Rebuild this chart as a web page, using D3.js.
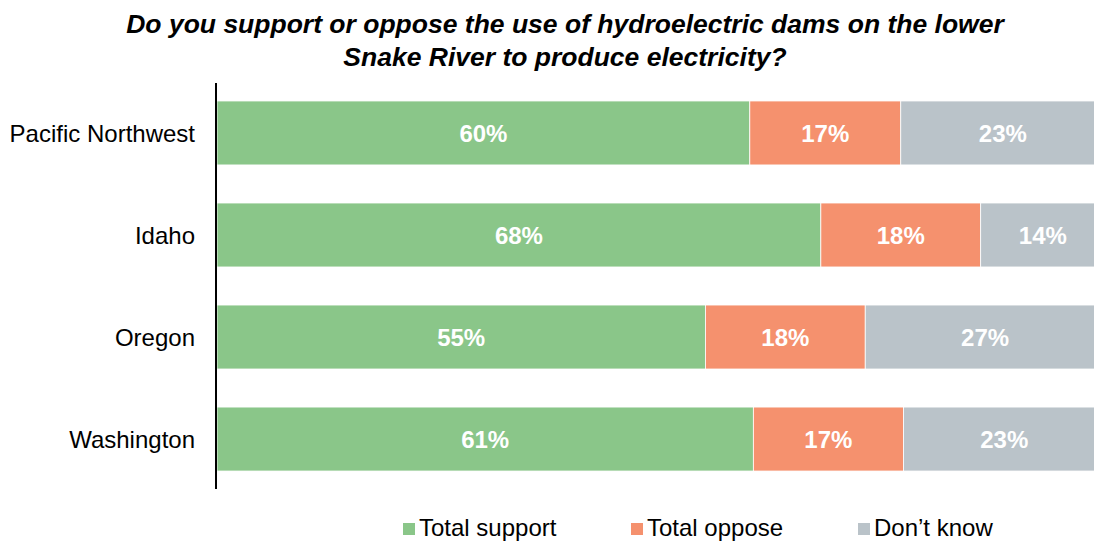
<!DOCTYPE html>
<html><head><meta charset="utf-8">
<script src="https://cdn.jsdelivr.net/npm/d3@7"></script>
<style>body{margin:0;background:#fff;}svg{display:block;}</style>
</head><body>
<svg id="c" width="1094" height="542"></svg>
<script>
const categories = ["Pacific Northwest", "Idaho", "Oregon", "Washington"];
const seriesNames = ["Total support", "Total oppose", "Don\u2019t know"];
// bar lengths (as drawn) and printed labels (as shown)
const support = [60, 68, 55, 60.4];
const oppose = [17, 18, 18, 16.9];
const dontKnow = [23, 14, 27, 22.7];
const supportLabels = ["60%", "68%", "55%", "61%"];
const opposeLabels = ["17%", "18%", "18%", "17%"];
const dontKnowLabels = ["23%", "14%", "27%", "23%"];
const colors = ["#8AC689", "#F5916E", "#BAC3C9"];
const titleLines = ["Do you support or oppose the use of hydroelectric dams on the lower", "Snake River to produce electricity?"];

const svg = d3.select("#c");
const font = "'Liberation Sans', Arial, sans-serif";
const x = d3.scaleLinear().domain([0, 100]).range([217, 1105]);
const y = d3.scaleBand().domain(categories).range([82, 490]).paddingInner(0.373).paddingOuter(0.186);

svg.append("text").attr("x", 565).attr("y", 33).attr("text-anchor", "middle")
  .attr("font-family", font).attr("font-size", 26.5).attr("font-weight", "bold").attr("font-style", "italic")
  .selectAll("tspan").data(titleLines).join("tspan")
  .attr("x", 565).attr("dy", (d, i) => i ? 33 : 0).text(d => d);

const rows = categories.map((c, i) => ({c,
  vals: [support[i], oppose[i], dontKnow[i]],
  labels: [supportLabels[i], opposeLabels[i], dontKnowLabels[i]]}));
const chart = svg.append("g");
rows.forEach(r => {
  let acc = 0;
  r.vals.forEach((v, j) => {
    const x0 = x(acc), x1 = x(acc + v);
    chart.append("rect").attr("x", x0).attr("y", y(r.c)).attr("width", x1 - x0).attr("height", y.bandwidth())
      .attr("fill", colors[j]).attr("stroke", "#fff").attr("stroke-width", 0.8);
    chart.append("text").attr("x", (x0 + x1) / 2).attr("y", y(r.c) + y.bandwidth() / 2).attr("dy", "0.36em")
      .attr("text-anchor", "middle").attr("font-family", font).attr("font-size", 24).attr("font-weight", "bold")
      .attr("fill", "#fff").text(r.labels[j]);
    acc += v;
  });
});

const yAxis = d3.axisLeft(y).tickSize(0).tickPadding(21);
const ga = svg.append("g").attr("transform", "translate(216,0)").call(yAxis);
ga.select(".domain").remove();
ga.selectAll("text").attr("font-family", font).attr("font-size", 24).attr("fill", "#000").attr("dy", "0.36em");
svg.append("line").attr("x1", 216).attr("x2", 216).attr("y1", 83).attr("y2", 489).attr("stroke", "#000").attr("stroke-width", 2);

const legX = [403, 631, 858];
const leg = svg.append("g");
seriesNames.forEach((s, i) => {
  leg.append("rect").attr("x", legX[i]).attr("y", 523).attr("width", 12).attr("height", 12).attr("fill", colors[i]);
  leg.append("text").attr("x", legX[i] + 16).attr("y", 536).attr("font-family", font).attr("font-size", 24).attr("fill", "#000").text(s);
});
</script>
</body></html>
